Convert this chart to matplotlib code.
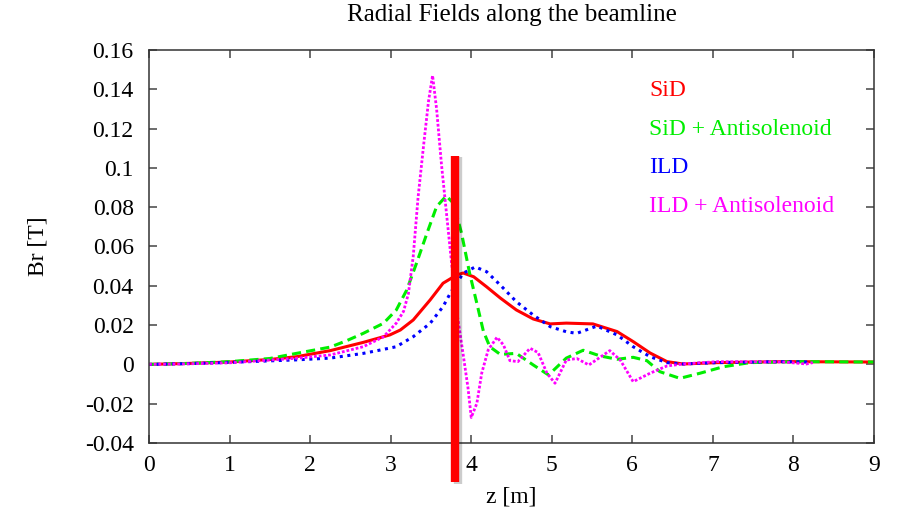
import matplotlib
matplotlib.use('Agg')
import matplotlib.pyplot as plt
import matplotlib.patheffects as pe

plt.rcParams.update({
    'font.family': ['Liberation Serif', 'DejaVu Serif'],
    'font.size': 16,
})

# SiD (red solid)
sid_z = [0, 0.5, 1.0, 1.5, 1.83, 2.25, 2.66, 2.99, 3.12, 3.28, 3.49, 3.65, 3.82, 3.90,
         4.03, 4.19, 4.36, 4.56, 4.77, 4.98, 5.18, 5.51, 5.81, 6.01, 6.22, 6.43, 6.63,
         7.05, 7.88, 9.0]
sid_b = [0, 0.0005, 0.0012, 0.0025, 0.0039, 0.007, 0.0112, 0.015, 0.0175, 0.0226,
         0.0328, 0.0413, 0.0455, 0.0465, 0.0446, 0.0395, 0.0338, 0.0277, 0.0231, 0.0206,
         0.021, 0.0206, 0.0167, 0.0116, 0.0058, 0.0014, 0.0002, 0.0009, 0.0014, 0.0012]

# SiD + Antisolenoid (green dashed)
sida_z = [0, 0.5, 1.0, 1.5, 1.83, 2.25, 2.45, 2.66, 2.91, 3.07, 3.20, 3.32, 3.45, 3.57,
          3.69, 3.78, 3.88, 3.98, 4.07, 4.15, 4.23, 4.36, 4.56, 4.77, 4.96, 5.18, 5.39,
          5.6, 5.81, 6.01, 6.18, 6.34, 6.59, 6.84, 7.13, 7.46, 8.08, 9.0]
sida_b = [0, 0.0005, 0.0014, 0.003, 0.0056, 0.0088, 0.012, 0.0158, 0.0209, 0.0277,
          0.0379, 0.0514, 0.0667, 0.0803, 0.0857, 0.082, 0.0667, 0.0464, 0.031, 0.017,
          0.009, 0.0051, 0.0056, -0.0003, -0.0054, 0.0032, 0.0072, 0.0043, 0.0026,
          0.0036, 0.0019, -0.0037, -0.0071, -0.0045, -0.0012, 0.0009, 0.0014, 0.0012]

# ILD (blue dotted)
ild_z = [0, 0.5, 1.0, 1.5, 1.83, 2.25, 2.66, 2.87, 3.07, 3.28, 3.49, 3.65, 3.74, 3.90,
         4.05, 4.19, 4.36, 4.56, 4.77, 4.98, 5.18, 5.31, 5.56, 5.81, 6.01, 6.22, 6.43,
         6.63, 7.05, 7.88, 8.2]
ild_b = [0, 0.0004, 0.001, 0.0018, 0.0023, 0.0032, 0.0056, 0.0073, 0.009, 0.0141,
         0.0209, 0.0294, 0.0362, 0.0464, 0.0496, 0.0472, 0.0404, 0.0319, 0.0251, 0.0192,
         0.0166, 0.0158, 0.0195, 0.015, 0.009, 0.0039, 0.0009, 0.0002, 0.0009, 0.0014,
         0.0012]

# ILD + Antisolenoid (magenta fine dots)
ilda_z = [0, 0.5, 1.0, 1.5, 1.83, 2.25, 2.66, 2.91, 3.07, 3.16, 3.22, 3.28, 3.34, 3.41,
          3.47, 3.52, 3.57, 3.63, 3.70, 3.76, 3.82, 3.90, 3.96, 4.0, 4.07, 4.13, 4.21,
          4.32, 4.40, 4.48, 4.58, 4.73, 4.83, 4.94, 5.04, 5.18, 5.31, 5.46, 5.72, 5.85,
          6.01, 6.22, 6.43, 6.63, 7.05, 7.88, 8.16, 8.24]
ilda_b = [0, 0.0003, 0.0008, 0.0022, 0.0031, 0.0048, 0.009, 0.014, 0.021, 0.027,
          0.036, 0.055, 0.085, 0.112, 0.134, 0.147, 0.130, 0.102, 0.074, 0.050, 0.027,
          0.005, -0.012, -0.027, -0.0198, -0.0045, 0.0073, 0.0138, 0.0099, 0.0019,
          0.0014, 0.0082, 0.006, -0.0045, -0.0096, 0.0022, 0.003, -0.0003, 0.007,
          0.0022, -0.0088, -0.0045, -0.0008, 0.0002, 0.0014, 0.0012, 0.0002, 0.0009]

labels = ['SiD', 'SiD + Antisolenoid', 'ILD', 'ILD + Antisolenoid']
colors = ['#ff0000', '#00ee00', '#0000ff', '#ff00ff']
label_y = [0.1396, 0.1193, 0.1000, 0.0801]

marker_z = 3.8
marker_range = [-0.06, 0.106]

fig = plt.figure(figsize=(8.97, 5.11), dpi=100)
ax = fig.add_axes([0.1661, 0.1331, 0.8083, 0.7691])

ax.plot(sid_z, sid_b, color=colors[0], lw=2.2, ls='-')
ax.plot(sida_z, sida_b, color=colors[1], lw=2.2, ls=(0, (3, 1.7)))
ax.plot(ild_z, ild_b, color=colors[2], lw=2.2, ls=(0, (1, 1.5)))
ax.plot(ilda_z, ilda_b, color=colors[3], lw=2.0, ls=(0, (1, 0.7)))

# thick red marker line, extends below the axis
ax.plot([marker_z, marker_z], marker_range, color='#ff0000', lw=6, solid_capstyle='butt',
        clip_on=False, zorder=5,
        path_effects=[pe.SimpleLineShadow(offset=(2, -1), alpha=0.2), pe.Normal()])

for lab, c, y in zip(labels, colors, label_y):
    ax.text(6.21, y, lab, color=c, va='center', ha='left', fontsize=17)

ax.set_xlim(0, 9)
ax.set_ylim(-0.04, 0.16)
ax.set_xticks(range(0, 10))
ax.set_yticks([-0.04, -0.02, 0, 0.02, 0.04, 0.06, 0.08, 0.1, 0.12, 0.14, 0.16])
ax.set_yticklabels(['-0.04', '-0.02', '0', '0.02', '0.04', '0.06', '0.08', '0.1',
                    '0.12', '0.14', '0.16'])
ax.tick_params(direction='in', length=6, width=1.1, color='#444444',
               top=True, right=True, labelsize=17)
ax.tick_params(axis='y', pad=11)
ax.tick_params(axis='x', pad=9)
for s in ax.spines.values():
    s.set_color('#333333')
    s.set_linewidth(1.1)

ax.set_title('Radial Fields along the beamline', fontsize=18, pad=21)
ax.set_xlabel('z [m]', fontsize=17, labelpad=7)
ax.set_ylabel('Br [T]', fontsize=17, labelpad=26)

fig.savefig('out.png', dpi=100)
